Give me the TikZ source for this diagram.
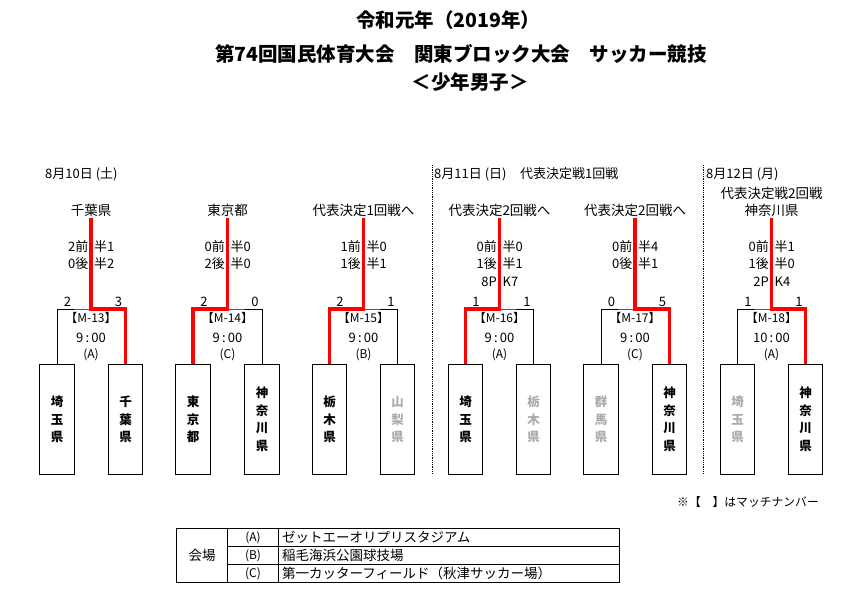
\documentclass[tikz,border=0pt]{standalone}
\usepackage{fontspec}
\setmainfont{Noto Sans CJK JP}
\newcommand\teamnode[4]{\node[teambox,text=#4] (#1) at (#2,364) {#3};}
\newcommand\halfsc[5]{%
  \node[sc,anchor=east] (#1l) at (#2-2.5,#3) {#4};
  \node[sc,anchor=west] (#1r) at (#2+3,#3) {#5};}
\newcommand\paren[1]{(\kern0pt#1\kern0pt)}
\newcommand\mtxt[4]{%
  \node[mt] (n#2) at (#1,318) {【M-#2】};
  \node[mt,font=\fontsize{13}{15}\selectfont] (tm#2) at (#1,338) {#3};
  \node[vt] (v#2) at (#1,355) {\paren{#4}};}
\newcommand\goals[4]{%
  \node[sc] (#1gl) at (#2-23.5,302) {#3};
  \node[sc] (#1gr) at (#2+27.5,302) {#4};}
\begin{document}
\begin{tikzpicture}[x=1pt,y=-1pt,
  teambox/.style={draw,line width=0.9pt,minimum width=34.5pt,minimum height=110pt,inner sep=0pt,anchor=north,font=\bfseries\fontsize{12.5}{17.5}\selectfont,align=center},
  rd/.style={red,line width=3.5pt},
  bk/.style={black,line width=0.9pt},
  lbl/.style={font=\fontsize{13.5}{15}\selectfont,inner sep=0pt},
  sc/.style={font=\fontsize{13}{15}\selectfont,inner sep=0pt},
  mt/.style={font=\fontsize{12}{14}\selectfont,inner sep=0pt},
  vt/.style={font=\fontsize{12}{13}\selectfont,inner sep=0pt},
  dt/.style={font=\fontsize{13}{15}\selectfont,inner sep=0pt,anchor=west},
  ttl/.style={font=\bfseries\fontsize{19.5}{22}\selectfont,inner sep=0pt},
  tb/.style={black,line width=0.9pt},
  tbt/.style={font=\fontsize{13.5}{15}\selectfont,inner sep=0pt},
  sep/.style={densely dotted,line width=0.8pt}
]
\useasboundingbox (0,0) rectangle (863,601);
\fill[white] (0,0) rectangle (863,601);
% title
\node[ttl] (title1) at (448,20) {令和元年（2019年）};
\node[ttl] (title2) at (461,54) {第74回国民体育大会　関東ブロック大会　サッカー競技};
\node[ttl] (title3) at (470,82) {＜少年男子＞};
% dates
\node[dt] (d1) at (45,174) {8月10日 \paren{土}};
\node[dt] (d2) at (434,174) {8月11日 \paren{日}};
\node[dt] (d2b) at (520,174) {代表決定戦1回戦};
\node[dt] (d3) at (706,174) {8月12日 \paren{月}};
% separators
\coordinate (s1a) at (432,165); \coordinate (s1b) at (432,474);
\coordinate (s2a) at (703,165); \coordinate (s2b) at (703,474);
\draw[sep] (s1a) -- (s1b);
\draw[sep] (s2a) -- (s2b);
% teams
\teamnode{t1}{57}{埼\\玉\\県}{black}
\teamnode{t2}{125.5}{千\\葉\\県}{black}
\teamnode{t3}{193}{東\\京\\都}{black}
\teamnode{t4}{262}{神\\奈\\川\\県}{black}
\teamnode{t5}{329.5}{栃\\木\\県}{black}
\teamnode{t6}{397.5}{山\\梨\\県}{black!33}
\teamnode{t7}{465.5}{埼\\玉\\県}{black}
\teamnode{t8}{533.5}{栃\\木\\県}{black!33}
\teamnode{t9}{601}{群\\馬\\県}{black!33}
\teamnode{t10}{669.5}{神\\奈\\川\\県}{black}
\teamnode{t11}{737.5}{埼\\玉\\県}{black!33}
\teamnode{t12}{805.5}{神\\奈\\川\\県}{black}
% bracket coordinates
\coordinate (m13) at (91,309);   \coordinate (r13) at (91,218);
\coordinate (m14) at (227.5,309); \coordinate (r14) at (227.5,218);
\coordinate (m15) at (363.5,309); \coordinate (r15) at (363.5,218);
\coordinate (m16) at (499.5,309); \coordinate (r16) at (499.5,218);
\coordinate (m17) at (635,309);  \coordinate (r17) at (635,218);
\coordinate (m18) at (771.5,309); \coordinate (r18) at (771.5,218);
% black brackets
\draw[bk] (t1.north) |- (m13) -| (t2.north);
\draw[bk] (t3.north) |- (m14) -| (t4.north);
\draw[bk] (t5.north) |- (m15) -| (t6.north);
\draw[bk] (t7.north) |- (m16) -| (t8.north);
\draw[bk] (t9.north) |- (m17) -| (t10.north);
\draw[bk] (t11.north) |- (m18) -| (t12.north);
% red winner paths
\draw[rd] (r13) -- (m13) -| (t2.north);
\draw[rd] (r14) -- (m14) -| (t3.north);
\draw[rd] (r15) -- (m15) -| (t5.north);
\draw[rd] (r16) -- (m16) -| (t7.north);
\draw[rd] (r17) -- (m17) -| (t10.north);
\draw[rd] (r18) -- (m18) -| (t12.north);
% top labels
\node[lbl] (l13) at (91,210) {千葉県};
\node[lbl] (l14) at (227.5,210) {東京都};
\node[lbl] (l15) at (363.5,210) {代表決定1回戦へ};
\node[lbl] (l16) at (499.5,210) {代表決定2回戦へ};
\node[lbl] (l17) at (635,210) {代表決定2回戦へ};
\node[lbl] (l18a) at (771.5,193) {代表決定戦2回戦};
\node[lbl] (l18) at (771.5,210) {神奈川県};
% half scores
\halfsc{a13}{91}{247}{2前}{半1}
\halfsc{b13}{91}{264}{0後}{半2}
\halfsc{a14}{227.5}{247}{0前}{半0}
\halfsc{b14}{227.5}{264}{2後}{半0}
\halfsc{a15}{363.5}{247}{1前}{半0}
\halfsc{b15}{363.5}{264}{1後}{半1}
\halfsc{a16}{499.5}{247}{0前}{半0}
\halfsc{b16}{499.5}{264}{1後}{半1}
\halfsc{p16}{499.5}{281.5}{8P}{K7}
\halfsc{a17}{635}{247}{0前}{半4}
\halfsc{b17}{635}{264}{0後}{半1}
\halfsc{a18}{771.5}{247}{0前}{半1}
\halfsc{b18}{771.5}{264}{1後}{半0}
\halfsc{p18}{771.5}{281.5}{2P}{K4}
% goals
\goals{g13}{91}{2}{3}
\goals{g14}{227.5}{2}{0}
\goals{g15}{363.5}{2}{1}
\goals{g16}{499.5}{1}{1}
\goals{g17}{635}{0}{5}
\goals{g18}{771.5}{1}{1}
% match info
\mtxt{91}{13}{9\,:\,00}{A}
\mtxt{227.5}{14}{9\,:\,00}{C}
\mtxt{363.5}{15}{9\,:\,00}{B}
\mtxt{499.5}{16}{9\,:\,00}{A}
\mtxt{635}{17}{9\,:\,00}{C}
\mtxt{771.5}{18}{10\,:\,00}{A}
% legend
\node[font=\fontsize{11.8}{13}\selectfont,inner sep=0pt,anchor=west] (leg) at (677,502) {※【　】はマッチナンバー};
% venue table
\draw[tb] (176,528.5) rectangle (619,582.5);
\draw[tb] (227.7,528.5) -- (227.7,582.5);
\draw[tb] (278.7,528.5) -- (278.7,582.5);
\draw[tb] (227.7,546.5) -- (619,546.5);
\draw[tb] (227.7,564.5) -- (619,564.5);
\node[tbt] (vhead) at (202,555.5) {会場};
\node[vt] (va) at (253,537.5) {\paren{A}};
\node[vt] (vb) at (253,555.5) {\paren{B}};
\node[vt] (vc) at (253,573.5) {\paren{C}};
\node[tbt,anchor=west] (vna) at (282,537.5) {ゼットエーオリプリスタジアム};
\node[tbt,anchor=west] (vnb) at (282,555.5) {稲毛海浜公園球技場};
\node[tbt,anchor=west] (vnc) at (282,573.5) {第一カッターフィールド（秋津サッカー場）};
\end{tikzpicture}
\end{document}
